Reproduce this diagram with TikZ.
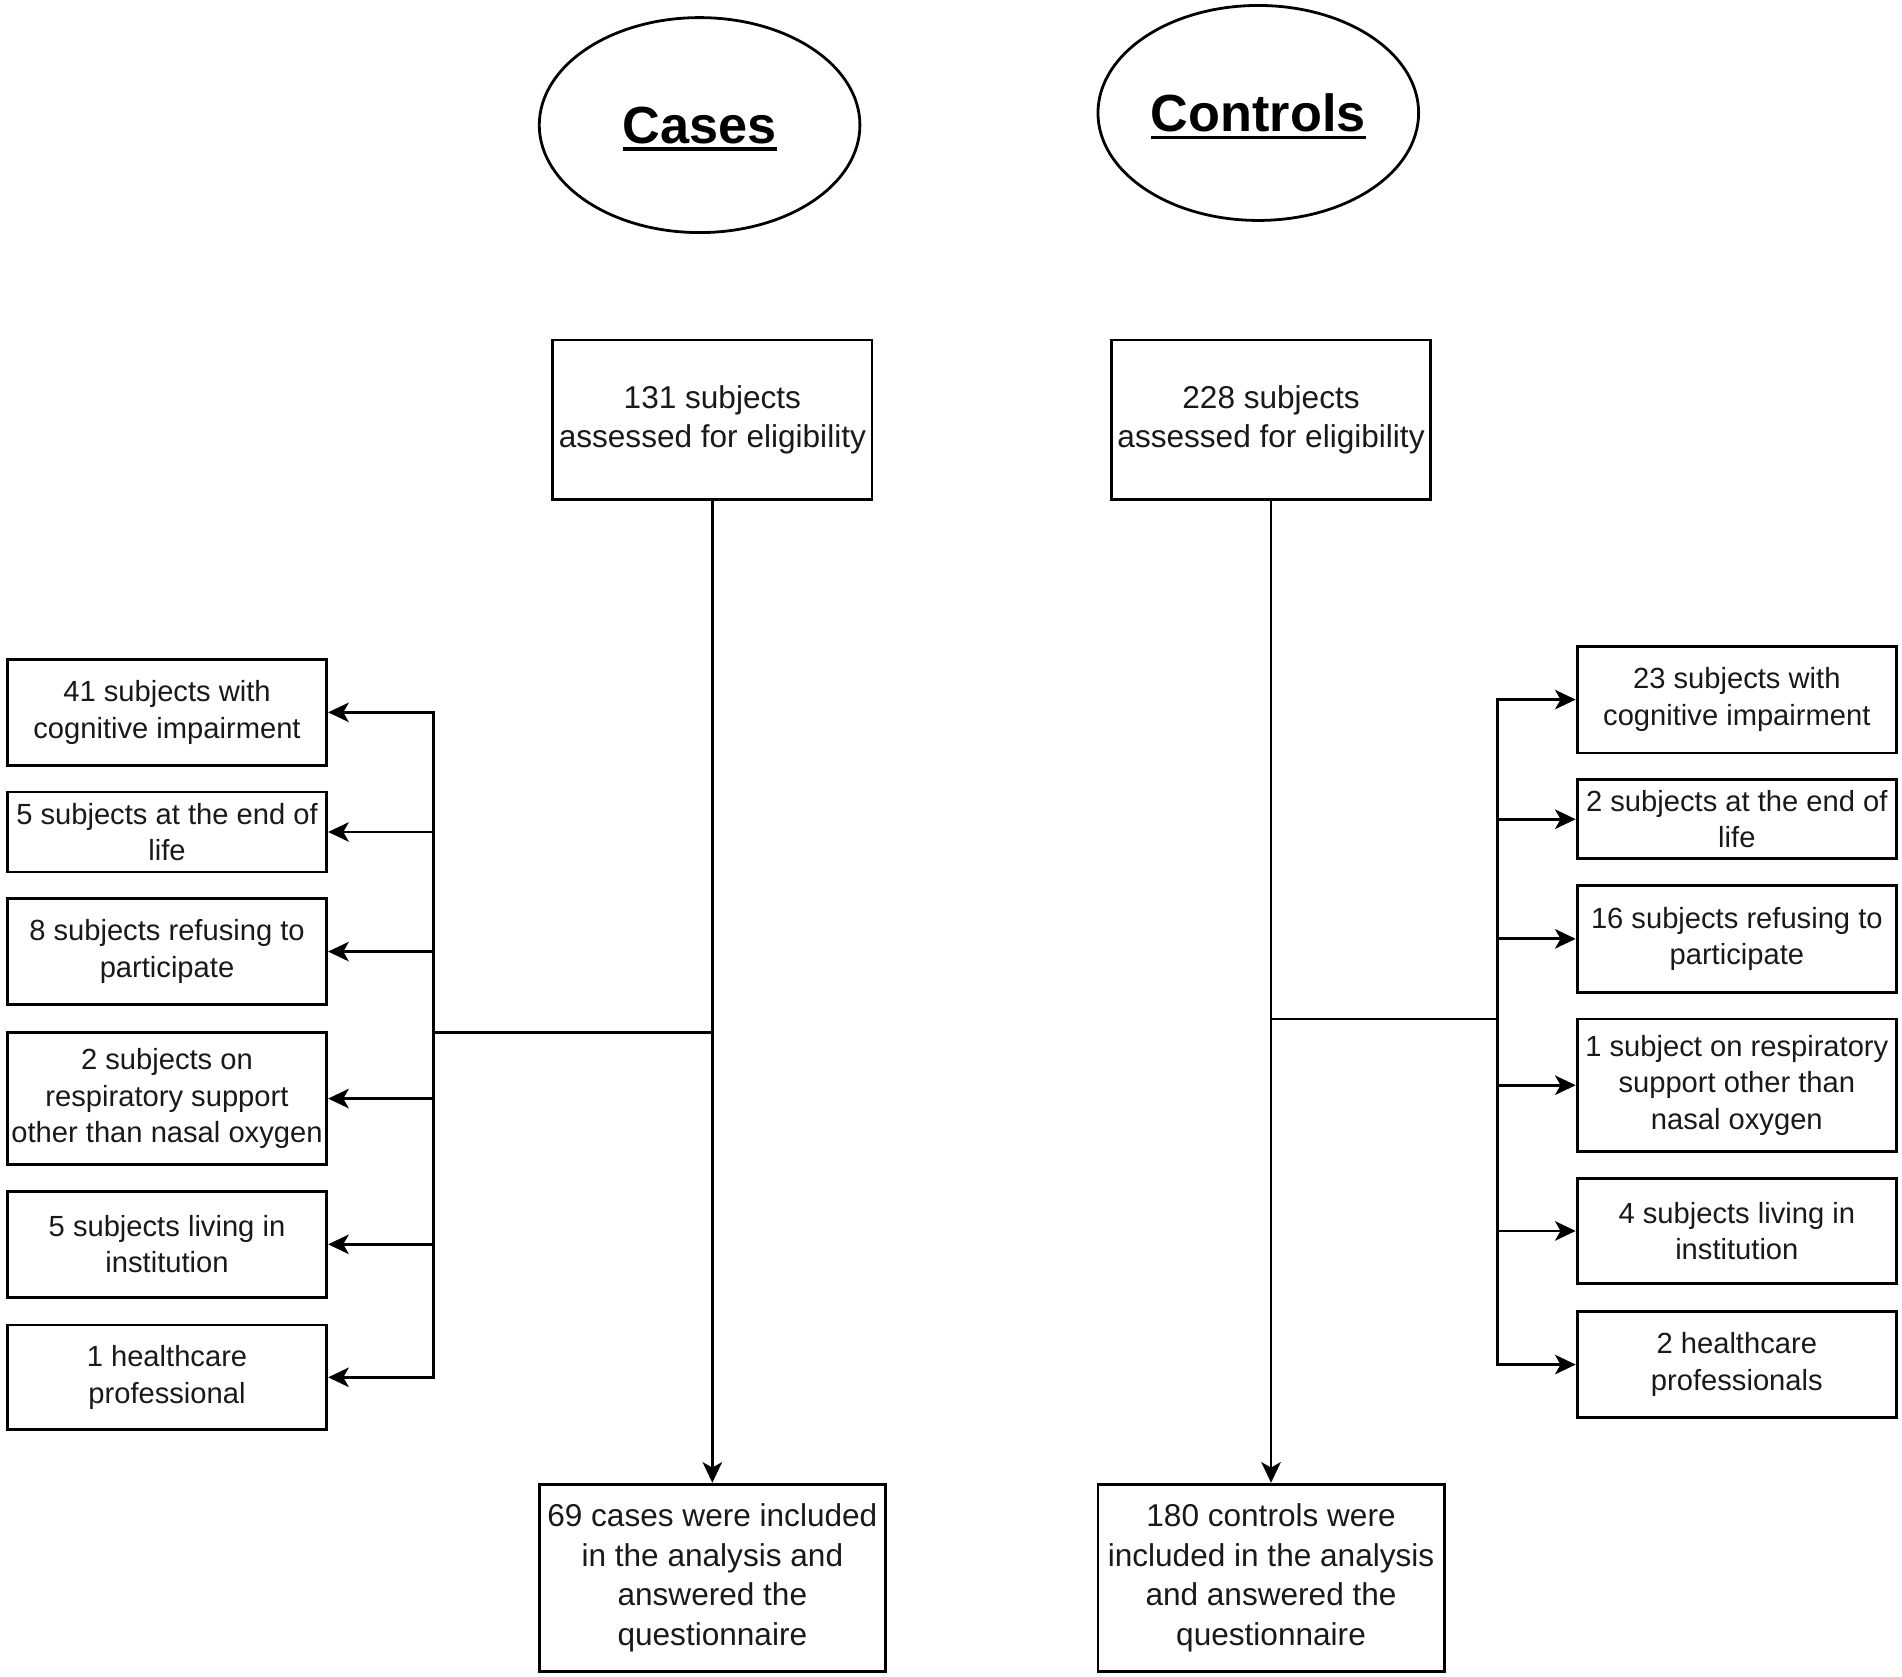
\documentclass[tikz,border=0pt]{standalone}
\usepackage{fontspec}
\setmainfont{Liberation Sans}
\usetikzlibrary{arrows.meta,shapes.geometric}
\newcommand\myul[1]{\leavevmode\setbox0\hbox{#1}\copy0\kern-\wd0\rule[-6pt]{\wd0}{2.8pt}}
\begin{document}
\begin{tikzpicture}[x=1pt,y=-1pt,
  ln/.style={line width=2.3pt},
  arr/.style={line width=2.3pt,-{Stealth[length=17pt,width=16pt,inset=4.5pt]}},
  sidebox/.style={draw,line width=2.3pt,inner sep=0pt,align=center,
     minimum width=263pt,font=\fontsize{24}{30}\selectfont,text=black!90},
  mainbox/.style={draw,line width=2.3pt,inner sep=0pt,align=center,
     font=\fontsize{26}{32.5}\selectfont,text=black!90},
  grp/.style={draw,ellipse,line width=2.3pt,inner sep=0pt,
     minimum width=264pt,minimum height=177pt,font=\bfseries\fontsize{43}{50}\selectfont}]
\useasboundingbox (0,0) rectangle (1566,1380);

% group ellipses
\node[grp] (cases) at (576,103) {};
\node[font=\bfseries\fontsize{43}{50}\selectfont] (casest) at (576,106) {\myul{Cases}};
\node[grp] (controls) at (1036,93) {};
\node[font=\bfseries\fontsize{43}{50}\selectfont] (controlst) at (1036,96) {\myul{Controls}};

% top boxes
\node[mainbox,minimum width=263pt,minimum height=131pt] (ca) at (586.5,345.5)
  {131 subjects\\assessed for eligibility};
\node[mainbox,minimum width=263pt,minimum height=131pt] (co) at (1046.5,345.5)
  {228 subjects\\assessed for eligibility};

% bottom boxes
\node[mainbox,minimum width=285pt,minimum height=154pt] (cf) at (586.5,1299)
  {69 cases were included\\in the analysis and\\answered the\\questionnaire};
\node[mainbox,minimum width=285pt,minimum height=154pt] (of) at (1046.5,1299)
  {180 controls were\\included in the analysis\\and answered the\\questionnaire};

% left exclusion boxes
\node[sidebox,minimum height=87pt] (L1) at (137.5,586.5) {41 subjects with\\cognitive impairment};
\node[sidebox,minimum height=66pt] (L2) at (137.5,685) {5 subjects at the end of\\life};
\node[sidebox,minimum height=87pt] (L3) at (137.5,783.5) {8 subjects refusing to\\participate};
\node[sidebox,minimum height=109pt] (L4) at (137.5,904.5) {2 subjects on\\respiratory support\\other than nasal oxygen};
\node[sidebox,minimum height=87pt] (L5) at (137.5,1024.5) {5 subjects living in\\institution};
\node[sidebox,minimum height=86pt] (L6) at (137.5,1134) {1 healthcare\\professional};

% right exclusion boxes
\node[sidebox,minimum height=88pt] (R1) at (1430,576) {23 subjects with\\cognitive impairment};
\node[sidebox,minimum height=65pt] (R2) at (1430,674.5) {2 subjects at the end of\\life};
\node[sidebox,minimum height=88pt] (R3) at (1430,773) {16 subjects refusing to\\participate};
\node[sidebox,minimum height=109pt] (R4) at (1430,893.5) {1 subject on respiratory\\support other than\\nasal oxygen};
\node[sidebox,minimum height=87pt] (R5) at (1430,1013.5) {4 subjects living in\\institution};
\node[sidebox,minimum height=87pt] (R6) at (1430,1123.5) {2 healthcare\\professionals};

% main flow
\draw[arr] (ca.south) -- (cf.north);
\draw[arr] (co.south) -- (of.north);

% left branch
\coordinate (lj) at (586.5,850);
\coordinate (lb) at (357,850);
\draw[ln] (lj) -- (lb);
\draw[ln,line cap=rect] (L1.east -| lb) -- (L6.east -| lb);
\foreach \b in {L1,L2,L3,L4,L5,L6}
  \draw[arr] (\b.east -| lb) -- (\b.east);

% right branch
\coordinate (rj) at (1046.5,839);
\coordinate (rb) at (1233,839);
\draw[ln] (rj) -- (rb);
\draw[ln,line cap=rect] (R1.west -| rb) -- (R6.west -| rb);
\foreach \b in {R1,R2,R3,R4,R5,R6}
  \draw[arr] (\b.west -| rb) -- (\b.west);
\end{tikzpicture}
\end{document}
